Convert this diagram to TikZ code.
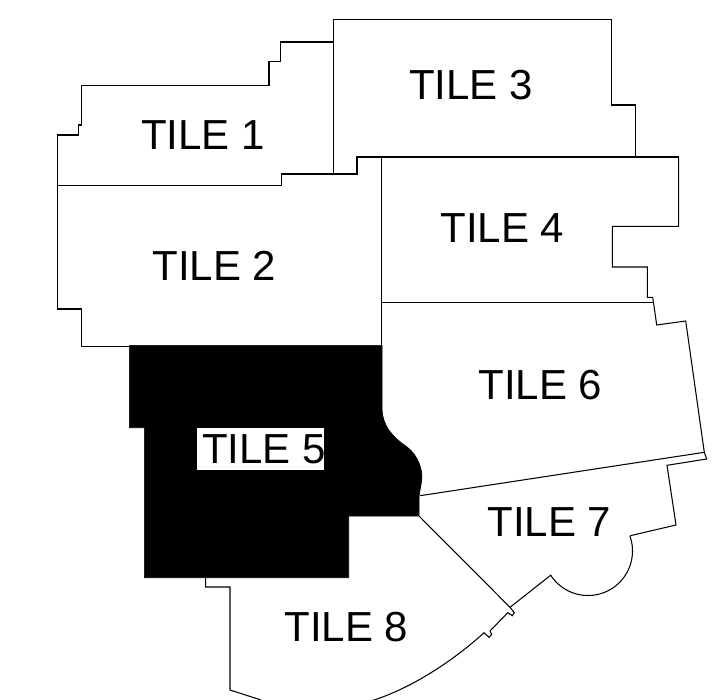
\documentclass[tikz,border=0pt]{standalone}
\usepackage{fontspec}
\setmainfont{Liberation Sans}
\tikzset{
  outline/.style={draw=black,line width=1.05pt,line join=miter},
  label/.style={anchor=base west,inner sep=0pt,font=\fontsize{42}{42}\selectfont,text=black},
}
\begin{document}
\begin{tikzpicture}[x=1pt,y=-1pt]
\useasboundingbox (0,0) rectangle (719,700);
\begin{scope}
\clip (0,0) rectangle (719,700);
% tile 1
\draw[outline] (57.3,309) -- (57.3,135) -- (78.3,135) -- (78.3,125) -- (81.7,125) -- (81.7,85.7) -- (269,85.7) -- (269,61.7) -- (280.7,61.7) -- (280.7,42) -- (333.7,42);
\draw[outline] (57.3,185.3) -- (281.7,185.3) -- (281.7,174) -- (357,174) -- (357,157) -- (678.7,157);
% tile 3
\draw[outline] (333.7,174) -- (333.7,19.7) -- (611.3,19.7) -- (611.3,105) -- (635.3,105) -- (635.3,157);
% tile 4
\draw[outline] (381.3,157) -- (381.3,345.3);
\draw[outline] (678.7,157) -- (678.7,226.3) -- (612.3,226.3) -- (612.3,267) -- (647.3,267) -- (647.3,297.3) -- (652.7,297.3) -- (656.7,325) -- (685.7,321) -- (704.3,452.3) -- (706.7,459) -- (667,465.3) -- (676,525) -- (630.3,535.7);
\draw[outline] (381.3,302.3) -- (652.7,302.3);
% tile 2
\draw[outline] (57.3,309) -- (81.7,309) -- (81.7,346.3) -- (129.3,346.3);
% tile 6/7
\draw[outline] (420,495.7) -- (704.3,452.3);
% tile 7 bay
\draw[outline] plot[smooth,domain=-20:147,samples=50] ({588+44.5*cos(\x)},{551+44.5*sin(\x)});
\draw[outline] (551,575) -- (510,607.3) -- (514.3,612.7) -- (512.3,615.7) -- (507.7,612.7) -- (490,631) -- (491.7,634.3) -- (489,637.3) -- (484,632.7);
\draw[outline] (419,516) -- (510,607.3);
% tile 8
\draw[outline] (484,632.7) .. controls (452,662) and (412,687) .. (377,699) .. controls (340,712) and (290,712) .. (258,699) -- (230,690) -- (230,587) -- (205.7,587) -- (205.7,577.7);
% tile 5
\fill[black,draw=black,line width=0.6pt] (129.3,345.3) -- (382,345.3) -- (382,410) .. controls (383,425) and (391,436) .. (406.7,446.7) .. controls (418,455) and (423,470) .. (421.7,480) .. controls (420.5,490) and (418.5,495) .. (419,500) -- (419,516) -- (348.7,516) -- (348.7,577.7) -- (144.3,577.7) -- (144.3,427.7) -- (129.3,427.7) -- cycle;
\fill[white] (197.3,427.7) rectangle (324,470.3);
\end{scope}
\node[label] (t1) at (141,149.3) {TILE 1};
\node[label] (t2) at (152.4,280) {TILE 2};
\node[label] (t3) at (409,99.3) {TILE 3};
\node[label] (t4) at (440.3,242.3) {TILE 4};
\node[label] (t5) at (201.8,463.3) {TILE 5};
\node[label] (t6) at (478.4,399) {TILE 6};
\node[label] (t7) at (487.4,536.7) {TILE 7};
\node[label] (t8) at (284.3,641.7) {TILE 8};
\end{tikzpicture}
\end{document}
